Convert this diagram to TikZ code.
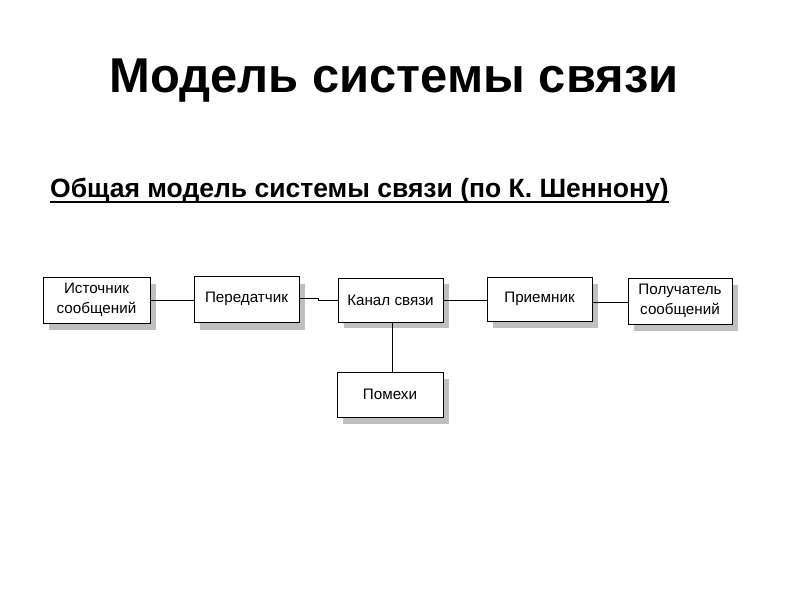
\documentclass[tikz,border=0pt]{standalone}
\usepackage{fontspec}
\setmainfont{Liberation Sans}
\begin{document}
\begin{tikzpicture}[x=1pt,y=-1pt,
  blk/.style={draw=black,line width=0.8pt,fill=white,inner sep=0pt,align=center,font=\fontsize{15.2}{20}\selectfont},
  shd/.style={fill=black!25,draw=none},
  conn/.style={line width=0.8pt}]
\useasboundingbox (0,0) rectangle (800,600);
\node[font=\bfseries\fontsize{48.9}{56}\selectfont,anchor=base] (title) at (394,92) {Модель системы связи};
\node[font=\bfseries\fontsize{26.5}{30}\selectfont,anchor=base west,inner sep=0pt] (sub) at (50,197) {Общая модель системы связи (по К. Шеннону)};
\draw[line width=1.6pt] ([yshift=-5pt]sub.base west) -- ([yshift=-5pt]sub.base east);
% shadows
\fill[shd] (49,284) rectangle (156,330);
\fill[shd] (200,284) rectangle (305,330);
\fill[shd] (344,284) rectangle (449,328);
\fill[shd] (493,284) rectangle (598,328);
\fill[shd] (634,285) rectangle (738,331);
\fill[shd] (343,379) rectangle (449,424);
% boxes
\node[blk,minimum width=107pt,minimum height=46pt] (src) at (96.5,300) {Источник\\сообщений};
\node[blk,minimum width=105pt,minimum height=46pt] (tx) at (246.5,299) {Передатчик};
\node[blk,minimum width=105pt,minimum height=44pt] (ch) at (390.5,300) {Канал связи};
\node[blk,minimum width=105pt,minimum height=44pt] (rx) at (539.5,299) {Приемник};
\node[blk,minimum width=104pt,minimum height=46pt] (dst) at (680,301) {Получатель\\сообщений};
\node[blk,minimum width=106pt,minimum height=45pt] (noise) at (390,394.5) {Помехи};
% connectors
\draw[conn] (src.east |- 0,300) -- (tx.west |- 0,300);
\coordinate (stp) at (318,298);
\draw[conn] (tx.east |- 0,298) -- (stp) -- (318,300) -- (ch.west |- 0,300);
\draw[conn] (ch.east |- 0,300) -- (rx.west |- 0,300);
\draw[conn] (rx.east |- 0,302) -- (dst.west |- 0,302);
\draw[conn] (ch.south -| 392,0) -- (noise.north -| 392,0);
\end{tikzpicture}
\end{document}
